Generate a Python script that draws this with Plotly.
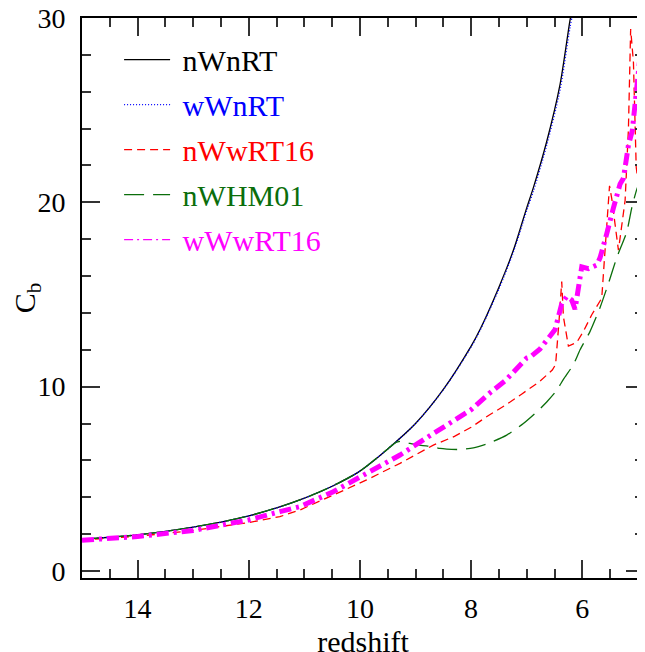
import plotly.graph_objects as go

# ---- data ----
z_nWnRT = [15.0, 14.5, 14.0, 13.5, 13.0, 12.5, 12.0, 11.5, 11.0, 10.5, 10.0, 9.5, 9.0,
           8.5, 8.0, 7.84, 7.5, 7.24, 7.0, 6.88, 6.64, 6.4, 6.22, 6.15]
c_nWnRT = [1.72, 1.83, 1.96, 2.15, 2.38, 2.65, 2.99, 3.42, 3.95, 4.6, 5.42, 6.62, 8.0,
           9.85, 12.2, 13.1, 15.4, 17.4, 19.7, 20.8, 23.3, 26.4, 29.9, 31.0]

z_wWnRT = [15.0, 14.5, 14.0, 13.5, 13.0, 12.5, 12.0, 11.5, 11.0, 10.5, 10.0, 9.5, 9.0,
           8.5, 8.0, 7.84, 7.5, 7.24, 7.0, 6.88, 6.64, 6.4, 6.22, 6.15]
c_wWnRT = [1.72, 1.83, 1.96, 2.15, 2.38, 2.65, 2.99, 3.42, 3.95, 4.6, 5.42, 6.62, 8.0,
           9.83, 12.15, 13.05, 15.3, 17.3, 19.55, 20.6, 23.1, 26.1, 29.5, 30.6]

z_nWwRT16 = [15.0, 14.0, 13.0, 12.0, 11.44, 11.08, 10.48, 9.88, 9.28, 8.68, 8.3, 8.0, 7.68,
             7.38, 7.08, 6.78, 6.54, 6.48, 6.42, 6.37, 6.34, 6.25, 6.10, 5.98, 5.83, 5.68,
             5.65, 5.60, 5.55, 5.51, 5.47, 5.38, 5.35, 5.23, 5.17, 5.13, 5.08, 5.03, 4.99, 4.89]
c_nWwRT16 = [1.68, 1.88, 2.2, 2.63, 2.95, 3.31, 4.12, 4.94, 5.84, 6.83, 7.3, 7.8, 8.45,
             9.0, 9.62, 10.25, 10.9, 11.2, 13.5, 15.7, 13.8, 12.2, 12.4, 13.0, 13.9, 14.6,
             14.8, 17.0, 18.9, 20.9, 20.2, 17.9, 17.4, 20.1, 24.0, 29.4, 27.6, 21.9, 21.0, 26.0]

z_nWHM01 = [15.0, 14.5, 14.0, 13.5, 13.0, 12.5, 12.0, 11.5, 11.0, 10.5, 10.0, 9.5, 9.35,
            9.25, 9.1, 8.9, 8.68, 8.56, 8.2, 7.96, 7.69, 7.36, 7.06, 6.82, 6.64, 6.46, 6.34,
            6.16, 6.04, 5.86, 5.68, 5.53, 5.38, 5.20, 5.11, 5.02, 4.89]
c_nWHM01 = [1.72, 1.83, 1.96, 2.15, 2.38, 2.65, 2.99, 3.42, 3.95, 4.6, 5.42, 6.62, 6.98,
            7.04, 6.92, 6.82, 6.74, 6.65, 6.59, 6.68, 6.92, 7.37, 8.0, 8.63, 9.17, 9.8, 10.4,
            11.2, 12.0, 13.0, 14.3, 15.6, 17.0, 18.4, 19.7, 20.7, 21.6]

z_wWwRT16 = [15.0, 14.0, 13.0, 12.0, 11.44, 11.08, 10.48, 9.88, 9.28, 8.68, 8.28, 8.0, 7.68,
             7.48, 7.38, 7.08, 7.0, 6.94, 6.76, 6.49, 6.37, 6.28, 6.19, 6.13, 6.04, 6.01,
             5.89, 5.74, 5.68, 5.65, 5.56, 5.44, 5.32, 5.26, 5.23, 5.17, 5.10, 5.02, 4.96,
             4.92, 4.89]
c_wWwRT16 = [1.67, 1.87, 2.2, 2.77, 3.22, 3.49, 4.3, 5.3, 6.29, 7.46, 8.18, 8.75, 9.62,
             10.16, 10.34, 11.3, 11.55, 11.6, 12.05, 13.1, 14.5, 14.9, 14.7, 14.2, 15.7, 16.5,
             16.4, 16.6, 17.0, 17.3, 18.3, 19.7, 21.0, 21.3, 22.0, 23.1, 23.9, 26.2, 28.0,
             29.3, 30.0]

x_ticks = [14, 12, 10, 8, 6]
y_ticks = [0, 10, 20, 30]

FONT = "Liberation Serif"

fig = go.Figure()

def lab(text, color):
    return f"<span style='color:{color}'>&nbsp;{text}</span>"

fig.add_trace(go.Scatter(x=z_nWnRT, y=c_nWnRT, mode="lines", name=lab("nWnRT", "black"),
                         line=dict(color="black", width=1.3, shape="spline", smoothing=0.8),
                         legendgroup="a", legendrank=1))
fig.add_trace(go.Scatter(x=z_wWnRT, y=c_wWnRT, mode="lines", name=lab("wWnRT", "#0000ff"),
                         line=dict(color="#0000ff", width=1.3, dash="1px,2px",
                                   shape="spline", smoothing=0.8),
                         legendgroup="b", legendrank=2))
fig.add_trace(go.Scatter(x=z_nWwRT16, y=c_nWwRT16, mode="lines", name=lab("nWwRT16", "#ff0000"),
                         line=dict(color="#ff0000", width=1.3, dash="8px,5px"),
                         legendgroup="c", legendrank=3))
fig.add_trace(go.Scatter(x=z_nWHM01, y=c_nWHM01, mode="lines", name=lab("nWHM01", "#0b6e0b"),
                         line=dict(color="#0b6e0b", width=1.3, dash="20px,9px",
                                   shape="spline", smoothing=0.6),
                         legendgroup="d", legendrank=4))
fig.add_trace(go.Scatter(x=z_wWwRT16, y=c_wWwRT16, mode="lines", showlegend=False,
                         line=dict(color="#ff00ff", width=5, dash="12px,5px,3px,5px"),
                         legendgroup="e"))
# legend entry for the thick magenta curve (thin sample, as in the reference)
fig.add_trace(go.Scatter(x=[None], y=[None], mode="lines", name=lab("wWwRT16", "#ff00ff"),
                         line=dict(color="#ff00ff", width=1.3, dash="9px,4px,2px,4px"),
                         legendgroup="e", legendrank=5))

axis_common = dict(
    showline=True, linecolor="black", linewidth=2, mirror="ticks",
    ticks="inside", ticklen=18, tickwidth=1.5, tickcolor="#333",
    showgrid=False, zeroline=False, automargin=False, ticklabeloverflow="allow",
    tickfont=dict(family=FONT, size=28, color="black"),
)

fig.update_xaxes(range=[15, 4.89], tickvals=x_ticks, ticktext=[str(v) for v in x_ticks],
                 minor=dict(dtick=0.5, tick0=0, ticks="inside", ticklen=9, tickwidth=1.5,
                            tickcolor="#333"),
                 title=dict(text="redshift", font=dict(family=FONT, size=30, color="black"),
                            standoff=12),
                 ticklabelstandoff=4,
                 **axis_common)
fig.update_yaxes(range=[-0.38, 30.001], tickvals=y_ticks, ticktext=[str(v) for v in y_ticks],
                 minor=dict(dtick=2, tick0=0, ticks="inside", ticklen=9, tickwidth=1.5,
                            tickcolor="#333"),
                 title=dict(text="C<sub>b</sub>", font=dict(family=FONT, size=30, color="black"),
                            standoff=16),
                 ticklabelstandoff=9,
                 **axis_common)

# the page body adds an 8px margin, so the figure is offset by 8px in the window
fig.update_layout(
    width=637, height=650,
    margin=dict(l=74, r=1, t=10, b=80),
    paper_bgcolor="white", plot_bgcolor="white",
    showlegend=True,
    legend=dict(x=0.066, y=0.972, xanchor="left", yanchor="top",
                bgcolor="rgba(0,0,0,0)", borderwidth=0,
                font=dict(family=FONT, size=30),
                itemwidth=46, tracegroupgap=3, traceorder="grouped"),
)

fig.write_html("out.html")
